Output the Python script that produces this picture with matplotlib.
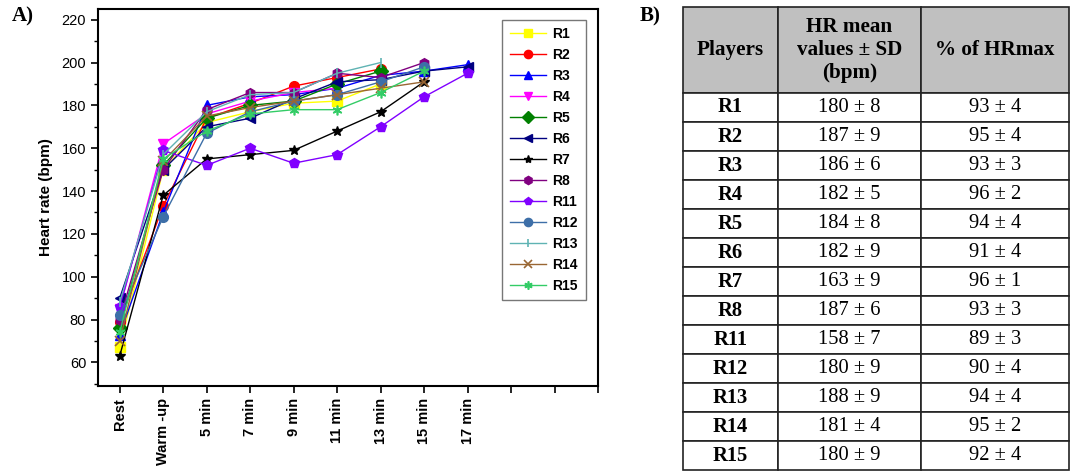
import matplotlib

matplotlib.use("Agg")
import matplotlib.pyplot as plt
import numpy as np
from matplotlib.ticker import MultipleLocator

# ---- data -------------------------------------------------------------
stages = ["Rest", "Warm -up", "5 min", "7 min", "9 min", "11 min",
          "13 min", "15 min", "17 min"]
players = ["R1", "R2", "R3", "R4", "R5", "R6", "R7", "R8",
           "R11", "R12", "R13", "R14", "R15"]

nan = np.nan
hr_R1 = [67, 150, 172, 177, 181, 182, 190, nan, nan]
hr_R2 = [79, 133, 174, 181, 189, 193, 197, nan, nan]
hr_R3 = [73, 130, 180, 184, 185, 188, 194, 196, 199]
hr_R4 = [85, 162, 176, 182, 186, 188, nan, nan, nan]
hr_R5 = [76, 152, 174, 180, 182, 190, 196, nan, nan]
hr_R6 = [90, 150, 170, 174, 183, 191, 192, 196, 198]
hr_R7 = [63, 138, 155, 157, 159, 168, 177, 191, nan]
hr_R8 = [80, 150, 178, 186, 186, 195, 193, 200, nan]
hr_R11 = [86, 159, 152, 160, 153, 157, 170, 184, 195]
hr_R12 = [82, 128, 167, 177, 182, 185, 191, 198, nan]
hr_R13 = [88, 157, 177, 185, 186, 195, 200, nan, nan]
hr_R14 = [70, 154, 175, 179, 182, 185, 188, 191, nan]
hr_R15 = [74, 155, 168, 176, 178, 178, 186, 196, nan]
series = [hr_R1, hr_R2, hr_R3, hr_R4, hr_R5, hr_R6, hr_R7, hr_R8,
          hr_R11, hr_R12, hr_R13, hr_R14, hr_R15]

hr_mean = ["180 ± 8", "187 ± 9", "186 ± 6", "182 ± 5", "184 ± 8", "182 ± 9",
           "163 ± 9", "187 ± 6", "158 ± 7", "180 ± 9", "188 ± 9", "181 ± 4",
           "180 ± 9"]
pct_hrmax = ["93 ± 4", "95 ± 4", "93 ± 3", "96 ± 2", "94 ± 4", "91 ± 4",
             "96 ± 1", "93 ± 3", "89 ± 3", "90 ± 4", "94 ± 4", "95 ± 2",
             "92 ± 4"]
table_header = ["Players", "HR mean\nvalues ± SD\n(bpm)", "% of HRmax"]

# ---- styles -----------------------------------------------------------
colors = ["#ffff00", "#ff0000", "#0000ff", "#ff00ff", "#008000", "#000080",
          "#000000", "#800080", "#8000ff", "#3d6fa8", "#5fb3b3", "#996633",
          "#33cc66"]
markers = ["s", "o", "^", "v", "D", "<", "*", "h", "p", "o", "|", "x",
           (6, 2, 0)]

fig = plt.figure(figsize=(10.73, 4.71), dpi=100)

# ---- panel A ----------------------------------------------------------
ax = fig.add_axes([0.0913, 0.1805, 0.466, 0.8004])
x = np.arange(len(stages))
for name, vals, c, m in zip(players, series, colors, markers):
    ax.plot(x, vals, color=c, marker=m, markersize=7, linewidth=1,
            markeredgewidth=1 if m not in ("|", "x", (6, 2, 0)) else 1.2,
            label=name)

ax.set_xlim(-0.5, 11)
ax.set_ylim(49, 225)
ax.set_xticks(np.arange(12))
ax.set_xticklabels(stages + ["", "", ""], rotation=90, fontsize=10.5,
                   fontweight="bold", family="Liberation Sans")
ax.yaxis.set_minor_locator(MultipleLocator(10))
ax.set_yticks(np.arange(60, 221, 20))
for lab in ax.get_yticklabels():
    lab.set_family("Liberation Sans")
    lab.set_fontsize(10.5)
ax.tick_params(direction="out", width=1.2, length=5)
ax.tick_params(which="minor", direction="out", width=1.0, length=3)
for sp in ax.spines.values():
    sp.set_linewidth(1.5)
ax.set_ylabel("Heart rate (bpm)", fontsize=11, fontweight="bold",
              family="Liberation Sans", labelpad=6)

leg = ax.legend(loc="upper left", bbox_to_anchor=(0.795, 0.99),
                prop={"family": "Liberation Sans", "weight": "bold", "size": 10},
                fancybox=False, edgecolor="#555555", handlelength=2.6,
                labelspacing=0.5, borderpad=0.55, handletextpad=0.45,
                markerscale=0.85)
leg.get_frame().set_linewidth(1.0)

fig.text(0.011, 0.955, "A)", fontsize=15, fontweight="bold",
         family="Liberation Serif")
fig.text(0.596, 0.955, "B)", fontsize=15, fontweight="bold",
         family="Liberation Serif")

# ---- panel B: table ---------------------------------------------------
tax = fig.add_axes([683 / 1073, 1 - 470 / 471, 386 / 1073, 463 / 471])
tax.axis("off")
rows = [[p, h, q] for p, h, q in zip(players, hr_mean, pct_hrmax)]
tbl = tax.table(cellText=rows, colLabels=table_header, loc="center",
                cellLoc="center")
tbl.auto_set_font_size(False)
col_w = [95 / 386, 143 / 386, 148 / 386]
head_h = 86 / 463
row_h = (1 - head_h) / len(rows)
for (r, c), cell in tbl.get_celld().items():
    cell.set_width(col_w[c])
    cell.set_linewidth(1.2)
    cell.set_edgecolor("#222222")
    txt = cell.get_text()
    txt.set_family("Liberation Serif")
    if r == 0:
        cell.set_height(head_h)
        cell.set_facecolor("#c0c0c0")
        txt.set_fontweight("bold")
        txt.set_fontsize(15.2)
        txt.set_linespacing(1.22)
    else:
        cell.set_height(row_h)
        txt.set_fontsize(14.8)
        if c == 0:
            txt.set_fontweight("bold")

fig.savefig("out.png", dpi=100)
